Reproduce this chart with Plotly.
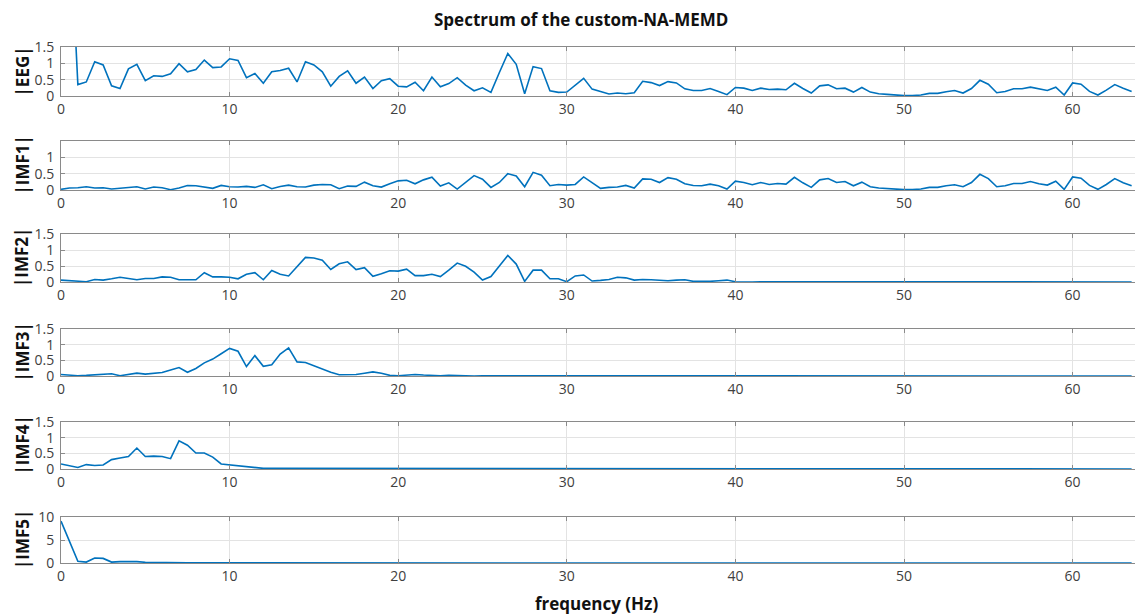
import plotly.graph_objects as go

# Frequency bins (Hz), 0.5 Hz resolution
freq_hz = [i * 0.5 for i in range(128)]

eeg = [
    9.30, 5.60, 0.35, 0.43, 1.05, 0.95, 0.31, 0.23, 0.83, 0.97,
    0.47, 0.62, 0.60, 0.68, 0.99, 0.74, 0.81, 1.10, 0.87, 0.89,
    1.14, 1.09, 0.56, 0.69, 0.39, 0.74, 0.78, 0.85, 0.43, 1.05,
    0.95, 0.74, 0.30, 0.60, 0.77, 0.39, 0.58, 0.23, 0.47, 0.53,
    0.30, 0.28, 0.42, 0.16, 0.58, 0.28, 0.38, 0.56, 0.33, 0.16,
    0.25, 0.11, 0.72, 1.30, 0.97, 0.07, 0.90, 0.84, 0.16, 0.11,
    0.12, 0.33, 0.54, 0.21, 0.14, 0.06, 0.09, 0.07, 0.10, 0.45,
    0.41, 0.32, 0.44, 0.40, 0.22, 0.17, 0.17, 0.23, 0.14, 0.04,
    0.26, 0.24, 0.17, 0.24, 0.20, 0.21, 0.19, 0.39, 0.23, 0.09,
    0.31, 0.34, 0.22, 0.24, 0.12, 0.26, 0.12, 0.07, 0.05, 0.02,
    0.01, 0.01, 0.03, 0.08, 0.08, 0.13, 0.17, 0.09, 0.23, 0.48,
    0.36, 0.10, 0.14, 0.22, 0.22, 0.27, 0.21, 0.17, 0.27, 0.03,
    0.40, 0.36, 0.14, 0.03, 0.18, 0.35, 0.24, 0.14,
]

imf1 = [
    0.02, 0.06, 0.07, 0.10, 0.06, 0.07, 0.03, 0.06, 0.09, 0.10,
    0.03, 0.09, 0.07, 0.01, 0.06, 0.14, 0.13, 0.09, 0.05, 0.14,
    0.10, 0.09, 0.11, 0.08, 0.16, 0.04, 0.11, 0.15, 0.10, 0.09,
    0.15, 0.17, 0.16, 0.04, 0.12, 0.11, 0.24, 0.13, 0.09, 0.19,
    0.28, 0.30, 0.19, 0.31, 0.39, 0.12, 0.22, 0.03, 0.23, 0.44,
    0.33, 0.08, 0.23, 0.50, 0.43, 0.10, 0.54, 0.45, 0.13, 0.17,
    0.15, 0.17, 0.40, 0.22, 0.05, 0.08, 0.09, 0.14, 0.06, 0.34,
    0.33, 0.23, 0.38, 0.33, 0.19, 0.14, 0.13, 0.18, 0.13, 0.03,
    0.27, 0.23, 0.16, 0.23, 0.17, 0.20, 0.18, 0.39, 0.22, 0.08,
    0.31, 0.35, 0.23, 0.26, 0.13, 0.24, 0.10, 0.06, 0.04, 0.02,
    0.01, 0.01, 0.03, 0.08, 0.08, 0.13, 0.16, 0.10, 0.23, 0.48,
    0.35, 0.10, 0.13, 0.20, 0.20, 0.26, 0.19, 0.15, 0.27, 0.02,
    0.40, 0.36, 0.14, 0.02, 0.17, 0.35, 0.22, 0.13,
]

imf2 = [
    0.06, 0.05, 0.04, 0.01, 0.08, 0.06, 0.10, 0.15, 0.11, 0.07,
    0.11, 0.11, 0.16, 0.15, 0.07, 0.08, 0.07, 0.29, 0.16, 0.16,
    0.15, 0.10, 0.24, 0.29, 0.07, 0.36, 0.24, 0.19, 0.48, 0.77,
    0.75, 0.68, 0.39, 0.57, 0.63, 0.39, 0.45, 0.18, 0.26, 0.35,
    0.34, 0.40, 0.20, 0.20, 0.24, 0.17, 0.37, 0.59, 0.49, 0.31,
    0.06, 0.17, 0.50, 0.83, 0.56, 0.02, 0.37, 0.37, 0.10, 0.10,
    0.01, 0.19, 0.22, 0.03, 0.05, 0.08, 0.15, 0.13, 0.06, 0.08,
    0.07, 0.06, 0.04, 0.06, 0.07, 0.02, 0.01, 0.02, 0.04, 0.06,
    0.01, 0.00, 0.00, 0.01, 0.01, 0.00, 0.00, 0.01, 0.02, 0.02,
    0.02, 0.02, 0.01, 0.01, 0.00, 0.01, 0.01, 0.00, 0.00, 0.00,
    0.00, 0.00, 0.01, 0.01, 0.01, 0.00, 0.00, 0.01, 0.00, 0.00,
    0.00, 0.00, 0.00, 0.00, 0.00, 0.00, 0.00, 0.00, 0.01, 0.00,
    0.00, 0.01, 0.00, 0.00, 0.00, 0.00, 0.00, 0.00,
]

imf3 = [
    0.05, 0.02, 0.01, 0.02, 0.03, 0.04, 0.07, 0.01, 0.05, 0.09,
    0.06, 0.09, 0.11, 0.19, 0.27, 0.12, 0.24, 0.42, 0.54, 0.71,
    0.88, 0.79, 0.30, 0.65, 0.31, 0.36, 0.70, 0.90, 0.45, 0.43,
    0.32, 0.21, 0.12, 0.04, 0.04, 0.05, 0.09, 0.13, 0.09, 0.02,
    0.01, 0.03, 0.05, 0.03, 0.01, 0.01, 0.02, 0.01, 0.01, 0.00,
    0.01, 0.01, 0.00, 0.01, 0.01, 0.00, 0.00, 0.01, 0.00, 0.00,
    0.00, 0.01, 0.01, 0.00, 0.00, 0.00, 0.00, 0.01, 0.00, 0.00,
    0.00, 0.00, 0.00, 0.00, 0.00, 0.00, 0.00, 0.00, 0.00, 0.00,
    0.00, 0.00, 0.00, 0.00, 0.00, 0.00, 0.00, 0.00, 0.00, 0.00,
    0.00, 0.00, 0.00, 0.00, 0.00, 0.00, 0.00, 0.00, 0.00, 0.00,
    0.00, 0.00, 0.00, 0.00, 0.00, 0.00, 0.00, 0.00, 0.00, 0.00,
    0.00, 0.00, 0.00, 0.00, 0.00, 0.00, 0.00, 0.00, 0.00, 0.00,
    0.00, 0.00, 0.00, 0.00, 0.00, 0.00, 0.00, 0.00,
]

imf4 = [
    0.16, 0.11, 0.05, 0.14, 0.11, 0.13, 0.30, 0.35, 0.40, 0.67,
    0.40, 0.41, 0.40, 0.33, 0.90, 0.76, 0.51, 0.51, 0.38, 0.16,
    0.13, 0.11, 0.06, 0.03, 0.02, 0.02, 0.02, 0.01, 0.01, 0.01,
    0.01, 0.01, 0.01, 0.01, 0.01, 0.01, 0.01, 0.01, 0.01, 0.01,
    0.01, 0.00, 0.00, 0.00, 0.00, 0.00, 0.00, 0.00, 0.00, 0.00,
    0.00, 0.00, 0.00, 0.00, 0.00, 0.00, 0.00, 0.00, 0.00, 0.00,
    0.00, 0.00, 0.00, 0.00, 0.00, 0.00, 0.00, 0.00, 0.00, 0.00,
    0.00, 0.00, 0.00, 0.00, 0.00, 0.00, 0.00, 0.00, 0.00, 0.00,
    0.00, 0.00, 0.00, 0.00, 0.00, 0.00, 0.00, 0.00, 0.00, 0.00,
    0.00, 0.00, 0.00, 0.00, 0.00, 0.00, 0.00, 0.00, 0.00, 0.00,
    0.00, 0.00, 0.00, 0.00, 0.00, 0.00, 0.00, 0.00, 0.00, 0.00,
    0.00, 0.00, 0.00, 0.00, 0.00, 0.00, 0.00, 0.00, 0.00, 0.00,
    0.00, 0.00, 0.00, 0.00, 0.00, 0.00, 0.00, 0.00,
]

imf5 = [
    9.10, 4.80, 0.36, 0.20, 1.08, 1.00, 0.20, 0.30, 0.36, 0.30,
    0.15, 0.10, 0.08, 0.05, 0.04, 0.03, 0.02, 0.02, 0.02, 0.01,
    0.01, 0.01, 0.01, 0.01, 0.01, 0.01, 0.01, 0.01, 0.01, 0.01,
    0.01, 0.01, 0.01, 0.01, 0.01, 0.01, 0.01, 0.01, 0.01, 0.01,
    0.00, 0.00, 0.00, 0.00, 0.00, 0.00, 0.00, 0.00, 0.00, 0.00,
    0.00, 0.00, 0.00, 0.00, 0.00, 0.00, 0.00, 0.00, 0.00, 0.00,
    0.00, 0.00, 0.00, 0.00, 0.00, 0.00, 0.00, 0.00, 0.00, 0.00,
    0.00, 0.00, 0.00, 0.00, 0.00, 0.00, 0.00, 0.00, 0.00, 0.00,
    0.00, 0.00, 0.00, 0.00, 0.00, 0.00, 0.00, 0.00, 0.00, 0.00,
    0.00, 0.00, 0.00, 0.00, 0.00, 0.00, 0.00, 0.00, 0.00, 0.00,
    0.00, 0.00, 0.00, 0.00, 0.00, 0.00, 0.00, 0.00, 0.00, 0.00,
    0.00, 0.00, 0.00, 0.00, 0.00, 0.00, 0.00, 0.00, 0.00, 0.00,
    0.00, 0.00, 0.00, 0.00, 0.00, 0.00, 0.00, 0.00,
]

panel_names = ["|EEG|", "|IMF1|", "|IMF2|", "|IMF3|", "|IMF4|", "|IMF5|"]
panel_series = [eeg, imf1, imf2, imf3, imf4, imf5]
y_ranges = [[0, 1.5], [0, 1.5], [0, 1.5], [0, 1.5], [0, 1.5], [0, 10]]
y_ticks = [[0, 0.5, 1, 1.5], [0, 0.5, 1], [0, 0.5, 1, 1.5],
           [0, 0.5, 1, 1.5], [0, 0.5, 1, 1.5], [0, 5, 10]]
x_ticks = [0, 10, 20, 30, 40, 50, 60]

W, H = 1135, 616
PLOT_LEFT = 61
# panel (top, bottom) in pixels
panel_px = [(47, 96), (141, 190), (234, 282), (329, 376), (422, 469), (517, 563)]

LINE_COLOR = "#0072BD"
AXIS_COLOR = "#8a8a8a"
GRID_COLOR = "#e3e3e3"
TEXT_COLOR = "#404040"
FONT = "Open Sans"

fig = go.Figure()
annotations = []

for i, (name, ys) in enumerate(zip(panel_names, panel_series)):
    k = "" if i == 0 else str(i + 1)
    top, bot = panel_px[i]
    fig.add_trace(go.Scatter(
        x=freq_hz, y=ys, mode="lines",
        line=dict(color=LINE_COLOR, width=1.6),
        xaxis="x" + k, yaxis="y" + k, showlegend=False,
        cliponaxis=True,
    ))
    fig.layout["xaxis" + k] = dict(
        domain=[PLOT_LEFT / W, 1], anchor="y" + k,
        range=[0, 63.7], tickvals=x_ticks,
        showgrid=True, gridcolor=GRID_COLOR, gridwidth=1,
        showline=True, linecolor=AXIS_COLOR, linewidth=1, mirror="ticks",
        ticks="inside", ticklen=4, tickcolor=AXIS_COLOR,
        tickfont=dict(family=FONT, size=14, color=TEXT_COLOR),
        zeroline=False, fixedrange=True, automargin=False,
    )
    fig.layout["yaxis" + k] = dict(
        domain=[1 - bot / H, 1 - top / H], anchor="x" + k,
        range=y_ranges[i], tickvals=y_ticks[i],
        showgrid=True, gridcolor=GRID_COLOR, gridwidth=1,
        showline=True, linecolor=AXIS_COLOR, linewidth=1,
        ticks="inside", ticklen=4, tickcolor=AXIS_COLOR,
        tickfont=dict(family=FONT, size=14, color=TEXT_COLOR),
        ticklabelstandoff=3,
        zeroline=False, fixedrange=True, automargin=False,
    )
    annotations.append(dict(
        text="<b>" + name + "</b>", xref="paper", yref="paper",
        x=22 / W, y=1 - (top + bot) / 2 / H, textangle=-90,
        xanchor="center", yanchor="middle", showarrow=False,
        font=dict(family=FONT, size=17, color="#111111"),
    ))

annotations.append(dict(
    text="<b>Spectrum of the custom-NA-MEMD</b>", xref="paper", yref="paper",
    x=581 / W, y=1 - 20 / H, xanchor="center", yanchor="middle",
    showarrow=False, font=dict(family=FONT, size=17, color="#111111"),
))
annotations.append(dict(
    text="<b>frequency (Hz)</b>", xref="paper", yref="paper",
    x=596 / W, y=1 - 603 / H, xanchor="center", yanchor="middle",
    showarrow=False, font=dict(family=FONT, size=17, color="#111111"),
))

fig.update_layout(
    width=W, height=H,
    margin=dict(l=0, r=0, t=0, b=0, autoexpand=False),
    paper_bgcolor="white", plot_bgcolor="white",
    annotations=annotations,
)

fig.write_html("out.html")
